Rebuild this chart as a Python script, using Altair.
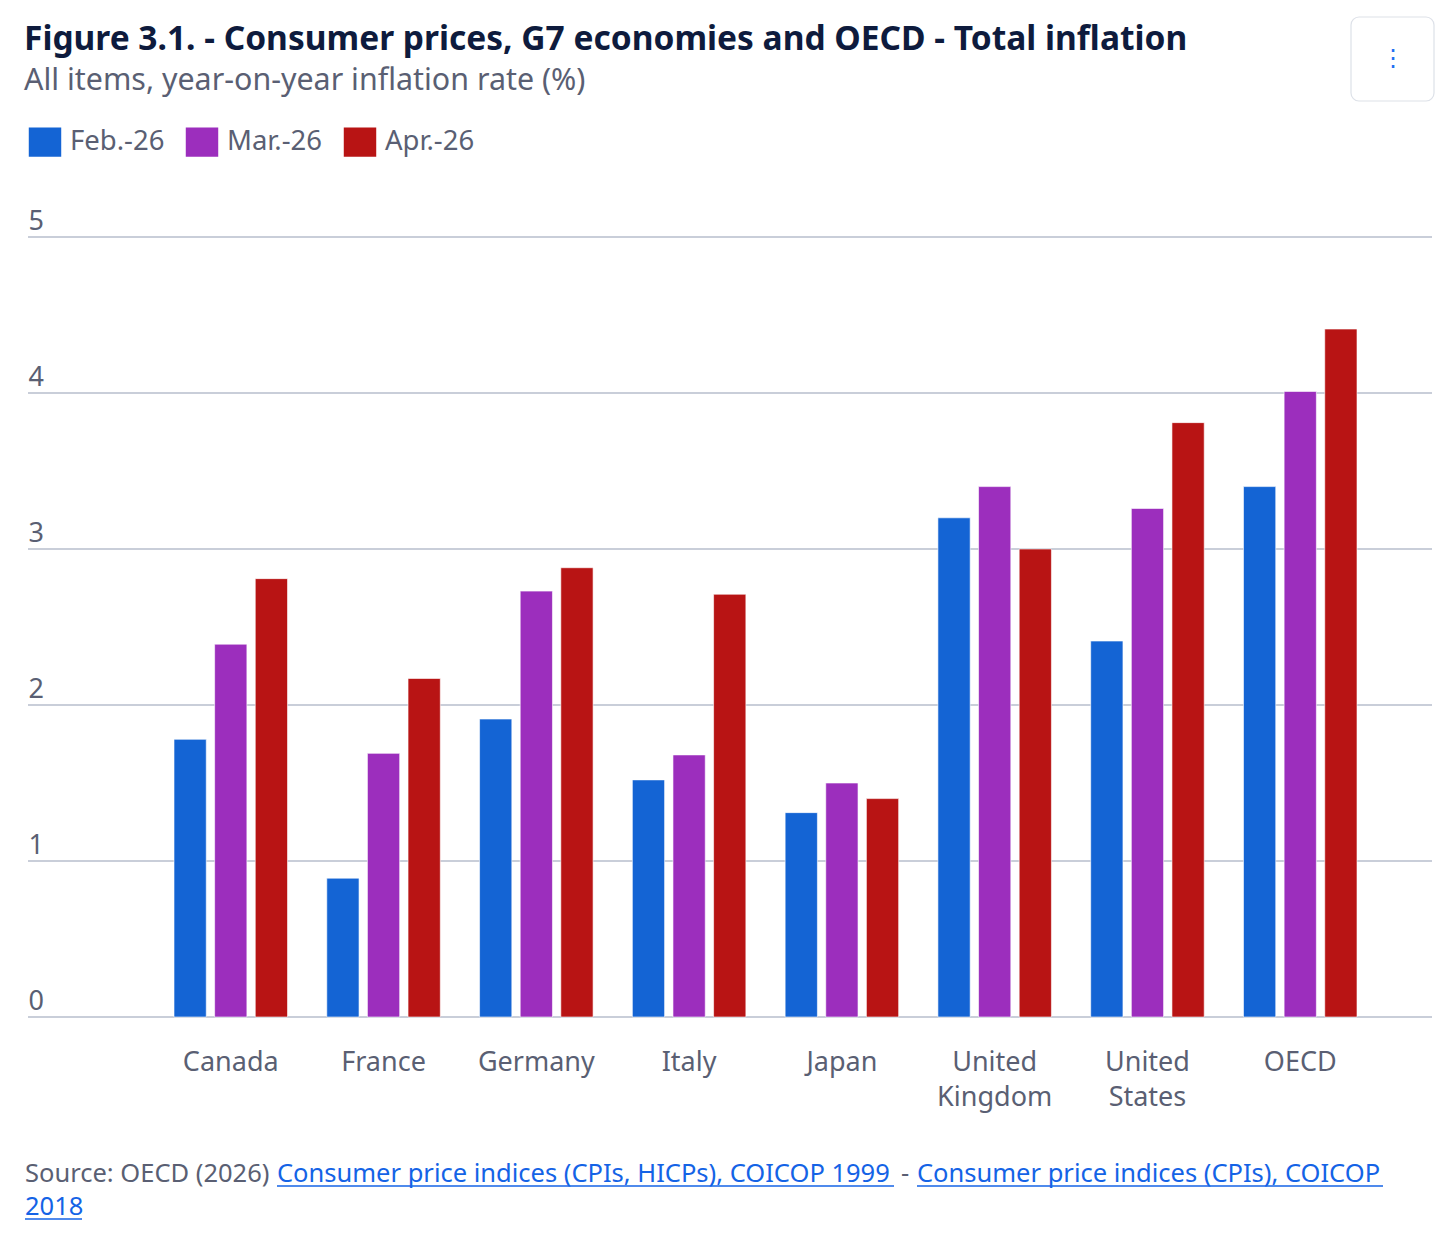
import altair as alt
import pandas as pd

# ---------------- data ----------------
countries = ["Canada", "France", "Germany", "Italy", "Japan",
             "United Kingdom", "United States", "OECD"]
periods = ["Feb.-26", "Mar.-26", "Apr.-26"]
feb = [1.78, 0.89, 1.91, 1.52, 1.31, 3.20, 2.41, 3.40]
mar = [2.39, 1.69, 2.73, 1.68, 1.50, 3.40, 3.26, 4.01]
apr = [2.81, 2.17, 2.88, 2.71, 1.40, 3.00, 3.81, 4.41]
y_ticks = [0, 1, 2, 3, 4, 5]
colors = ["#1464d4", "#9c2ebd", "#b81414"]

title_text = "Figure 3.1. - Consumer prices, G7 economies and OECD - Total inflation"
subtitle_text = "All items, year-on-year inflation rate (%)"
source_prefix = "Source: OECD (2026)"
link1 = "Consumer price indices (CPIs, HICPs), COICOP 1999"
separator = "-"
link2 = "Consumer price indices (CPIs), COICOP"
link2_cont = "2018"

rows = []
for i, c in enumerate(countries):
    for p, vals in zip(periods, [feb, mar, apr]):
        rows.append({"country": c, "period": p, "value": vals[i]})
df = pd.DataFrame(rows)
grid_df = pd.DataFrame({"tick": y_ticks})

FONT = "Noto Sans"
GRAY = "#5a5f73"
LINK = "#1463e6"
W, H = 1404, 780

y_scale = alt.Scale(domain=[0, 5], nice=False)
y_axis = alt.Axis(values=y_ticks, orient="left", domain=False, ticks=False, tickSize=0,
                  labelAlign="left", labelBaseline="alphabetic", labelOffset=-8,
                  labelPadding=0, grid=False, labelFontSize=27, labelColor=GRAY,
                  labelFont=FONT, labelBound=False)

grid = alt.Chart(grid_df).mark_rule(color="#c9ced9", strokeWidth=2).encode(
    y=alt.Y("tick:Q", scale=y_scale, title=None, axis=y_axis),
    x=alt.value(0), x2=alt.value(W))

bars = alt.Chart(df).mark_bar(stroke="white", strokeWidth=1, strokeOpacity=0.6).encode(
    x=alt.X("country:N", sort=countries, title=None,
            scale=alt.Scale(range=[146, 1329], paddingInner=0.257, paddingOuter=0),
            axis=alt.Axis(labelExpr="split(datum.label, ' ')", labelAngle=0, domain=False,
                          ticks=False, tickSize=0, labelPadding=32, labelFontSize=27,
                          labelColor=GRAY, labelLineHeight=35, labelFont=FONT, grid=False)),
    xOffset=alt.XOffset("period:N", sort=periods,
                        scale=alt.Scale(paddingInner=0.206, paddingOuter=0)),
    y=alt.Y("value:Q", title=None, scale=y_scale, axis=y_axis),
    color=alt.Color("period:N", sort=periods,
                    scale=alt.Scale(domain=periods, range=colors),
                    legend=alt.Legend(title=None, orient="none", legendX=2, legendY=-110,
                                      direction="horizontal", columns=3,
                                      symbolType="M-1.1,-1H1.1V1H-1.1Z",
                                      symbolSize=870, symbolStrokeWidth=0, symbolOpacity=1,
                                      labelFontSize=27.5, labelFont=FONT, labelColor=GRAY,
                                      labelOffset=10, columnPadding=20, padding=0)),
)

one = alt.Data(values=[{}])


def txt(text, x, y, color, size=25.5, weight="normal"):
    return alt.Chart(one).mark_text(text=text, align="left", baseline="alphabetic",
                                    font=FONT, fontSize=size, color=color,
                                    fontWeight=weight).encode(
        x=alt.value(x), y=alt.value(y))


def underline(x1, x2, y):
    return alt.Chart(one).mark_rule(color=LINK, strokeWidth=1.6).encode(
        x=alt.value(x1), x2=alt.value(x2), y=alt.value(y))


header = [
    txt(title_text, -4, -186.8, "#0e1b3d", size=33.5, weight="bold"),
    txt(subtitle_text, -4, -147.5, GRAY, size=30.4),
]

footer = [
    txt(source_prefix, -3, 945, GRAY),
    txt(link1, 249, 945, LINK),
    txt(separator, 873, 945, GRAY),
    txt(link2, 889, 945, LINK),
    txt(link2_cont, -3, 978, LINK),
    underline(249, 866, 949),
    underline(889, 1355, 949),
    underline(-3, 54, 982),
]

button = alt.Chart(one).mark_rect(fill="white", stroke="#dde1e8", strokeWidth=1.2,
                                  cornerRadius=8).encode(
    x=alt.value(1323), x2=alt.value(1406), y=alt.value(-220), y2=alt.value(-136))
dots = alt.Chart(one).mark_text(text="⋮", align="center", baseline="middle",
                                fontSize=24, color="#1f6ff2", font="DejaVu Sans").encode(
    x=alt.value(1365), y=alt.value(-178))

chart = alt.layer(grid, bars, *header, *footer, button, dots).properties(
    width=W, height=H,
    padding={"left": 20, "top": 229, "right": 16, "bottom": 210},
    autosize=alt.AutoSizeParams(type="none"),
    background="white",
).configure_view(strokeWidth=0)

chart.save("out.html", embed_options={"renderer": "svg", "actions": False})
